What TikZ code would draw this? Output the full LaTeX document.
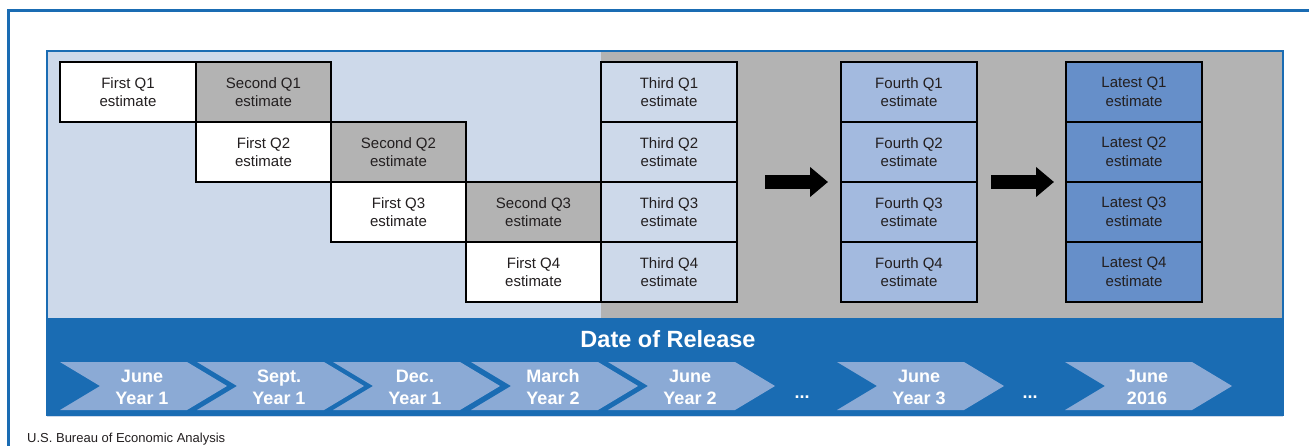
\documentclass[tikz,border=0pt]{standalone}
\usepackage{fontspec}
\setmainfont{Liberation Sans}
\usetikzlibrary{arrows.meta}
\definecolor{bandblue}{HTML}{1A6CB3}
\definecolor{lightbg}{HTML}{CDD9EA}
\definecolor{graybg}{HTML}{B3B3B3}
\definecolor{chev}{HTML}{8BAAD5}
\definecolor{fourth}{HTML}{A3BADF}
\definecolor{latest}{HTML}{668FC9}
\definecolor{ink}{HTML}{231F20}
\begin{document}
\begin{tikzpicture}[x=1pt,y=-1pt,
  est/.style={draw=black, line width=2pt, minimum width=135.5pt, minimum height=60pt,
    inner sep=0pt, align=center, text=ink, font=\fontsize{15}{18.5}\selectfont},
  firstbox/.style={est, fill=white},
  secondbox/.style={est, fill=graybg},
  thirdbox/.style={est, fill=lightbg},
  fourthbox/.style={est, fill=fourth},
  latestbox/.style={est, fill=latest},
  chevtext/.style={align=center, text=white, inner sep=0pt, font=\fontsize{18}{22}\selectfont\bfseries},
  bigarrow/.style={line width=14pt, -{Triangle[length=18pt,width=29pt]}},
  frameline/.style={draw=bandblue, line width=3pt}
]
\useasboundingbox (0,0) rectangle (1309,446);
\fill[white] (0,0) rectangle (1309,446);
% outer frame
\draw[frameline] (8.5,446) -- (8.5,11) -- (1309,11);
% panel
\fill[lightbg] (48,52) rectangle (601,318);
\fill[graybg] (601,52) rectangle (1282,318);
\fill[bandblue] (48,318) rectangle (1282,414);
\draw[draw=bandblue, line width=2pt] (47,51) rectangle (1283,415);
\draw[draw=lightbg, line width=1pt] (47,416.5) -- (1283,416.5);
% estimate boxes
\node[firstbox]  (f1) at (128,92)  {First Q1\\estimate};
\node[secondbox] (s1) at (263.5,92) {Second Q1\\estimate};
\node[firstbox]  (f2) at (263.5,152) {First Q2\\estimate};
\node[secondbox] (s2) at (398.5,152) {Second Q2\\estimate};
\node[firstbox]  (f3) at (398.5,212) {First Q3\\estimate};
\node[secondbox] (s3) at (533.5,212) {Second Q3\\estimate};
\node[firstbox]  (f4) at (533.5,272) {First Q4\\estimate};
\foreach \r/\y in {1/92,2/152,3/212,4/272}{
  \node[thirdbox]  (t\r) at (669,\y)  {Third Q\r\\estimate};
  \node[fourthbox] (q\r) at (909,\y)  {Fourth Q\r\\estimate};
  \node[latestbox] (l\r) at (1134,\y) {Latest Q\r\\estimate};
}
% arrows
\coordinate (a1s) at (765,182);
\coordinate (a1e) at (828,182);
\coordinate (a2s) at (991,182);
\coordinate (a2e) at (1054,182);
\draw[bigarrow] (a1s) -- (a1e);
\draw[bigarrow] (a2s) -- (a2e);
% band title
\node[anchor=base, text=white, inner sep=0pt, font=\fontsize{23.5}{28}\selectfont\bfseries] (dor) at (668,347) {Date of Release};
% chevrons
\foreach \L/\a/\b/\n in {60/June/Year 1/c1, 197/Sept./Year 1/c2, 333/Dec./Year 1/c3,
    471/March/Year 2/c4, 608/June/Year 2/c5, 837/June/Year 3/c6, 1065/June/2016/c7}{
  \fill[chev] (\L,362) -- ++(127,0) -- ++(40,24) -- ++(-40,24) -- ++(-127,0) -- ++(40,-24) -- cycle;
  \node[chevtext] (\n) at (\L+82,387.5) {\a\\\b};
}
\node[anchor=base, text=white, inner sep=0pt, font=\fontsize{18}{22}\selectfont\bfseries] (d1) at (802,398) {...};
\node[anchor=base, text=white, inner sep=0pt, font=\fontsize{18}{22}\selectfont\bfseries] (d2) at (1030,398) {...};
% source
\node[anchor=base west, inner sep=0pt, text=ink, font=\fontsize{13}{15}\selectfont] (src) at (27,442) {U.S. Bureau of Economic Analysis};
\end{tikzpicture}
\end{document}
